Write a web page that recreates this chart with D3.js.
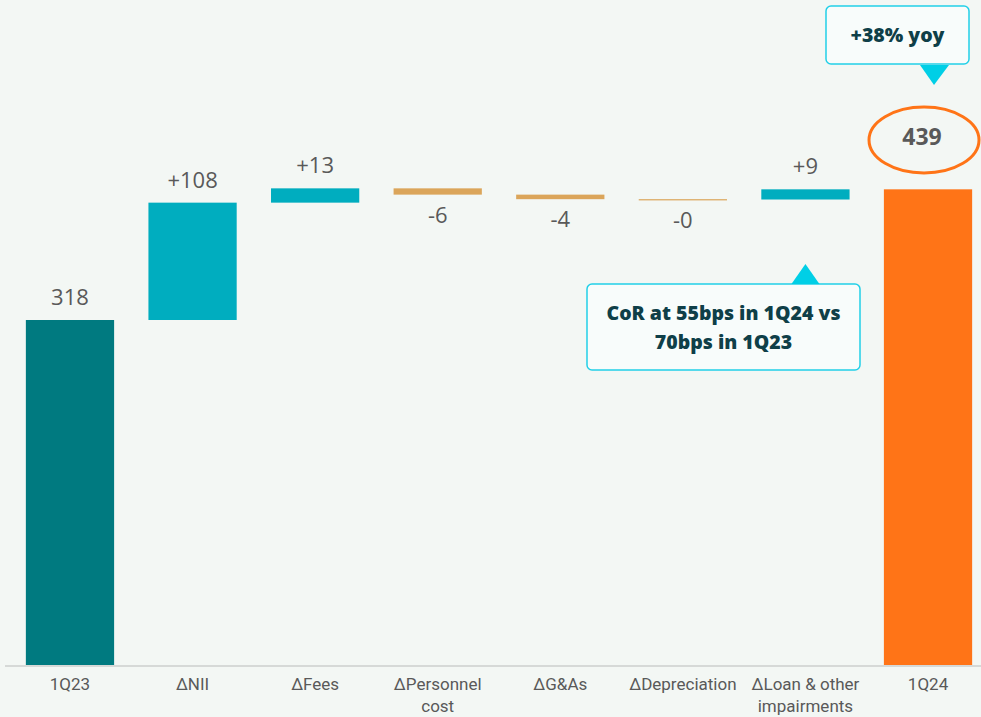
<!DOCTYPE html>
<html>
<head>
<meta charset="utf-8">
<script src="https://cdn.jsdelivr.net/npm/d3@7"></script>
<style>
  body { margin: 0; background: #f3f7f4; }
  svg { display: block; }
</style>
</head>
<body>
<svg id="waterfall" width="981" height="717"></svg>
<script>
// categories along the x axis (second line after "|")
const categories = ['1Q23', 'ΔNII', 'ΔFees', 'ΔPersonnel|cost', 'ΔG&As', 'ΔDepreciation', 'ΔLoan & other|impairments', '1Q24'];
// bar values: totals for first/last, deltas between
const values = [318.4, 108.3, 13.2, -5.8, -4.2, -0.3, 9.4, 439];
const valueLabels = ['318', '+108', '+13', '-6', '-4', '-0', '+9', '439'];
const kinds = ['start', 'delta', 'delta', 'delta', 'delta', 'delta', 'delta', 'end'];

const colors = { start: '#007a80', up: '#00adbf', down: '#dba55a', end: '#ff7417' };

const svg = d3.select('#waterfall');
const baseY = 665;

const xScale = d3.scaleBand()
  .domain(categories)
  .range([8.7, 989.3])
  .paddingInner(0.28)
  .paddingOuter(0.14);

const yScale = d3.scaleLinear().domain([0, 318.4]).range([baseY, 320]);

// build waterfall segments
let running = 0;
const bars = categories.map((c, i) => {
  let from, to;
  if (kinds[i] === 'delta') {
    from = running; to = running + values[i];
  } else {
    from = 0; to = values[i];
  }
  running = to;
  return { cat: c, from, to, value: values[i], label: valueLabels[i], kind: kinds[i] };
});

function barColor(d) {
  if (d.kind === 'start') return colors.start;
  if (d.kind === 'end') return colors.end;
  return d.value >= 0 ? colors.up : colors.down;
}

svg.selectAll('rect.bar')
  .data(bars)
  .enter()
  .append('rect')
  .attr('class', 'bar')
  .attr('x', d => xScale(d.cat))
  .attr('width', xScale.bandwidth())
  .attr('y', d => yScale(Math.max(d.from, d.to)))
  .attr('height', d => Math.max(1.2, Math.abs(yScale(d.from) - yScale(d.to))))
  .attr('fill', barColor);

// x axis line
svg.append('line')
  .attr('x1', 5).attr('x2', 981)
  .attr('y1', baseY + 1).attr('y2', baseY + 1)
  .attr('stroke', '#d6d9d7')
  .attr('stroke-width', 2);

// category labels
const catText = svg.selectAll('text.cat')
  .data(categories)
  .enter()
  .append('text')
  .attr('class', 'cat')
  .attr('x', d => xScale(d) + xScale.bandwidth() / 2)
  .attr('y', 690)
  .attr('text-anchor', 'middle')
  .attr('fill', '#595959')
  .style('font-family', '"Roboto", sans-serif')
  .style('font-size', '17px');

catText.each(function (d) {
  const lines = d.split('|');
  const t = d3.select(this);
  lines.forEach((ln, k) => {
    t.append('tspan')
      .attr('x', xScale(d) + xScale.bandwidth() / 2)
      .attr('dy', k === 0 ? 0 : 22)
      .text(ln);
  });
});

// value labels
svg.selectAll('text.val')
  .data(bars.filter(d => d.kind !== 'end'))
  .enter()
  .append('text')
  .attr('class', 'val')
  .attr('x', d => xScale(d.cat) + xScale.bandwidth() / 2)
  .attr('y', d => d.value >= 0 ? yScale(Math.max(d.from, d.to)) - 15 : yScale(Math.min(d.from, d.to)) + 28)
  .attr('text-anchor', 'middle')
  .attr('fill', '#595959')
  .style('font-family', '"Open Sans", "Noto Sans", sans-serif')
  .style('font-size', '22px')
  .text(d => d.label);

// final total label with orange ellipse
const last = bars[bars.length - 1];
const lastX = xScale(last.cat) + xScale.bandwidth() / 2;
svg.append('ellipse')
  .attr('cx', lastX - 4).attr('cy', 140)
  .attr('rx', 55).attr('ry', 33)
  .attr('fill', 'none')
  .attr('stroke', colors.end)
  .attr('stroke-width', 3);
svg.append('text')
  .attr('x', lastX - 6).attr('y', 145)
  .attr('text-anchor', 'middle')
  .attr('fill', '#595959')
  .style('font-family', '"Open Sans", "Noto Sans", sans-serif')
  .style('font-size', '23px')
  .style('font-weight', 'bold')
  .text(last.label);

// callouts
function callout(x, y, w, h, lines, tri) {
  svg.append('rect')
    .attr('x', x).attr('y', y).attr('width', w).attr('height', h)
    .attr('rx', 5)
    .attr('fill', '#f8fcfb')
    .attr('stroke', '#22d0e8')
    .attr('stroke-width', 1.5);
  svg.append('path')
    .attr('d', d3.line()(tri))
    .attr('fill', '#00cfe6');
  lines.forEach((ln, k) => {
    svg.append('text')
      .attr('x', x + w / 2)
      .attr('y', y + h / 2 + 7 + (k - (lines.length - 1) / 2) * 29)
      .attr('text-anchor', 'middle')
      .attr('fill', '#0f3f48')
      .style('font-family', '"Open Sans", "Noto Sans", sans-serif')
      .style('font-size', '19.5px')
      .style('font-weight', '800')
      .text(ln);
  });
}

callout(826, 6, 143, 58, ['+38% yoy'], [[920, 65], [949, 65], [934, 85]]);
const loanX = xScale('ΔLoan & other|impairments') + xScale.bandwidth() / 2;
callout(587, 284, 273, 86, ['CoR at 55bps in 1Q24 vs', '70bps in 1Q23'],
  [[loanX - 14, 284], [loanX + 14, 284], [loanX, 264]]);
</script>
</body>
</html>
